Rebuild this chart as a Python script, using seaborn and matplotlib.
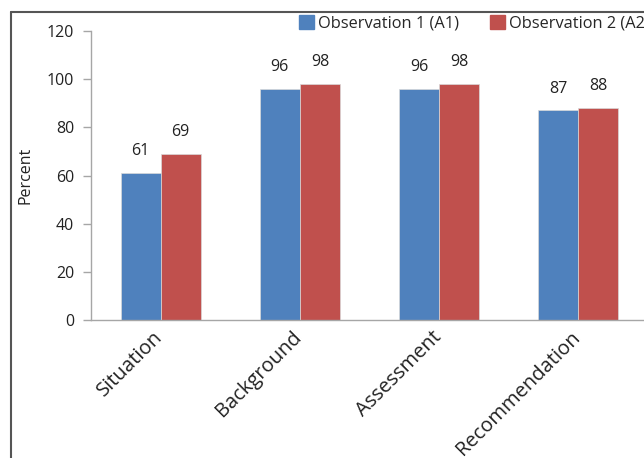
import matplotlib
matplotlib.use("Agg")
import matplotlib.pyplot as plt
import matplotlib.transforms as mtransforms
import seaborn as sns
import pandas as pd

categories = ["Situation", "Background", "Assessment", "Recommendation"]
obs1 = [61, 96, 96, 87]
obs2 = [69, 98, 98, 88]
series_names = ["Observation 1 (A1)", "Observation 2 (A2)"]
y_ticks = [0, 20, 40, 60, 80, 100, 120]

sns.set_theme(style="white")
plt.rcParams["font.family"] = ["Open Sans", "DejaVu Sans"]

df = pd.DataFrame({
    "Category": categories * 2,
    "Series": [series_names[0]] * 4 + [series_names[1]] * 4,
    "Percent": obs1 + obs2,
})

fig = plt.figure(figsize=(6.44, 4.58), dpi=100)
ax = fig.add_axes([91 / 644, 1 - 320 / 458, 557 / 644, 289 / 458])

palette = {series_names[0]: "#4F81BD", series_names[1]: "#C0504D"}
sns.barplot(data=df, x="Category", y="Percent", hue="Series", palette=palette,
            width=0.575, ax=ax, edgecolor="#d9d9d9", linewidth=0.5,
            saturation=1, legend=False)

ax.set_xlim(-0.5, 3.5)
ax.set_ylim(0, 120)
ax.set_yticks(y_ticks)
ax.set_yticklabels([str(v) for v in y_ticks], fontsize=11.5, color="#222222")
ax.set_ylabel("Percent", fontsize=11.5, color="#222222", labelpad=10)
ax.set_xlabel("")

# category labels rotated, ticks at category boundaries
ax.set_xticks(range(len(categories)))
ax.set_xticklabels(categories, rotation=45, ha="right", rotation_mode="anchor",
                   fontsize=14.5, color="#222222")
ax.tick_params(axis="x", length=0, pad=8)
shift = mtransforms.ScaledTranslation(-8 / 100, 4 / 100, fig.dpi_scale_trans)
for lbl in ax.get_xticklabels():
    lbl.set_transform(lbl.get_transform() + shift)
ax.set_xticks([-0.5, 0.5, 1.5, 2.5, 3.5], minor=True)
ax.tick_params(axis="x", which="minor", length=6, color="#a6a6a6", width=1, direction="out")
ax.tick_params(axis="y", length=6, color="#a6a6a6", width=1, direction="out", left=True, pad=6)

for side in ["top", "right"]:
    ax.spines[side].set_visible(False)
for side in ["left", "bottom"]:
    ax.spines[side].set_color("#a6a6a6")
    ax.spines[side].set_linewidth(1)

# value labels above each bar
for container in ax.containers:
    ax.bar_label(container, fmt="%d", padding=10, fontsize=11.5, color="#222222")

# outer frame lines
fig.add_artist(plt.Line2D([11 / 644, 1.0], [1 - 12 / 458, 1 - 12 / 458],
                          color="#555555", linewidth=1.5, transform=fig.transFigure))
fig.add_artist(plt.Line2D([11 / 644, 11 / 644], [0, 1 - 12 / 458],
                          color="#555555", linewidth=1.5, transform=fig.transFigure))

# legend
handles = [plt.Rectangle((0, 0), 1, 1, color=palette[s]) for s in series_names]
fig.legend(handles, series_names, loc="upper left", bbox_to_anchor=(299 / 644, 1 - 15 / 458),
           ncol=2, frameon=False, fontsize=11.8, handlelength=0.9, handleheight=0.9,
           handletextpad=0.25, columnspacing=1.9, borderaxespad=0, borderpad=0)

fig.savefig("out.png", dpi=100)
